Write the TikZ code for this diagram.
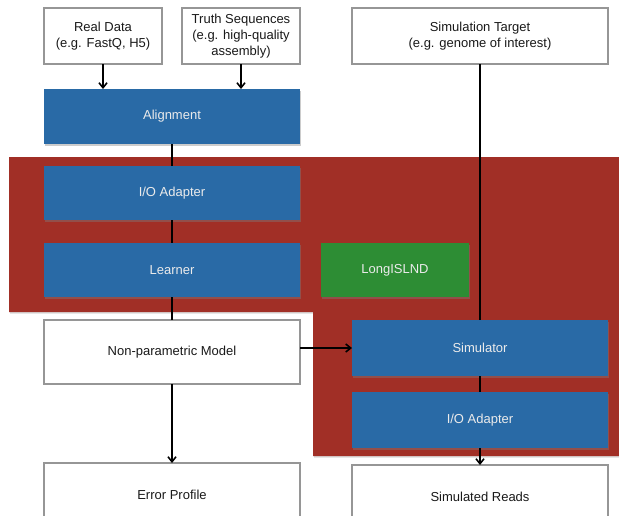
\documentclass[tikz,border=0pt]{standalone}
\usepackage{fontspec}
\setmainfont{Liberation Sans}
\usepackage{xcolor}
\usepackage{tikz}
\usetikzlibrary{arrows.meta, positioning, shadows}

\definecolor{panelred}{RGB}{161,47,38}
\definecolor{boxblue}{RGB}{41,106,166}
\definecolor{boxgreen}{RGB}{45,141,52}
\definecolor{edgegray}{RGB}{150,150,150}

\begin{document}
\begin{tikzpicture}[x=1pt,y=-1pt,>={Straight Barb[length=5pt,width=8pt]},outer sep=0pt,
    plain/.style={draw=edgegray,line width=1.5pt,fill=white,align=center,text=black!90,
      font=\fontsize{13}{16}\selectfont},
    block/.style={fill=boxblue,text=white!92!black,font=\fontsize{13}{16}\selectfont,
      drop shadow={shadow xshift=1pt,shadow yshift=-1.5pt,opacity=.4}},
    link/.style={line width=1.6pt,black}]
    \useasboundingbox (0,0) rectangle (619,515);

    %%%% red panel
    \fill [panelred,drop shadow={shadow xshift=1pt,shadow yshift=-1.5pt,opacity=.3}]
      (9,157) -- (619,157) -- (619,456) -- (313,456) -- (313,312) -- (9,312) -- cycle;

    \node (real) at (103,36) [plain,minimum width=118pt,minimum height=56pt] {Real Data\\(e.g. FastQ, H5)}; %
    \node (truth) at (241,36) [plain,minimum width=118pt,minimum height=56pt] {Truth Sequences\\(e.g. high-quality\\assembly)}; %
    \node (target) at (480,36) [plain,minimum width=256pt,minimum height=56pt] {Simulation Target\\(e.g. genome of interest)}; %
    \node (align) at (172,116.5) [block,minimum width=256pt,minimum height=55pt] {Alignment}; %
    \node (ioin) at (172,193) [block,minimum width=256pt,minimum height=54pt] {I/O Adapter}; %
    \node (learner) at (172,270) [block,minimum width=256pt,minimum height=54pt] {Learner}; %
    \node (island) at (395,270) [block,fill=boxgreen,minimum width=148pt,minimum height=54pt] {LongISLND}; %
    \node (model) at (172,352) [plain,minimum width=256pt,minimum height=64pt] {Non-parametric Model}; %
    \node (sim) at (480,348) [block,minimum width=256pt,minimum height=56pt] {Simulator}; %
    \node (ioout) at (480,420) [block,minimum width=256pt,minimum height=56pt] {I/O Adapter}; %
    \node (errprof) at (172,495) [plain,minimum width=256pt,minimum height=64pt] {Error Profile}; %
    \node (reads) at (480,497) [plain,minimum width=256pt,minimum height=64pt] {Simulated Reads}; %

    %%%% arcs
    \draw [link,->] (real) to (real |- align.north); %
    \draw [link,->] (truth) to (truth |- align.north); %
    \draw [link] (align) to (ioin); %
    \draw [link] (ioin) to (learner); %
    \draw [link] (learner) to (model); %
    \draw [link,->] (model) to (errprof); %
    \draw [link,->] (model.east |- sim) to (sim); %
    \draw [link] (target) to (target |- sim.north); %
    \draw [link] (sim) to (ioout); %
    \draw [link,->] (ioout) to (reads); %
  \end{tikzpicture}
\end{document}
